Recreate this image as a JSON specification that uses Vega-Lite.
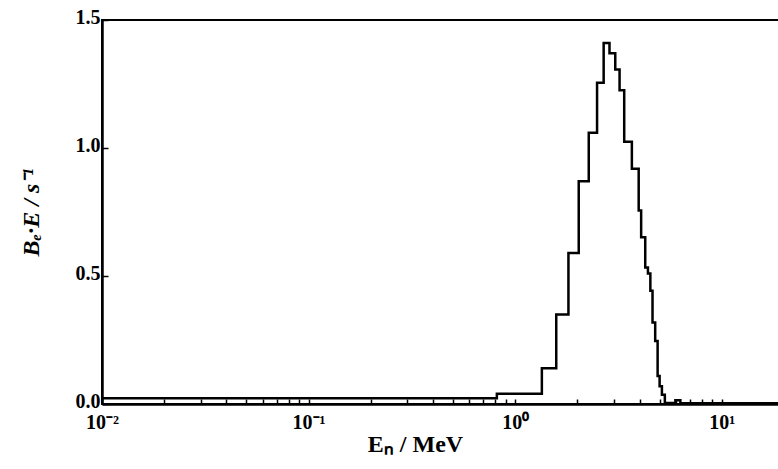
{
  "$schema": "https://vega.github.io/schema/vega-lite/v6.json",
  "autosize": {"type": "none"},
  "padding": {"left": 102, "top": 20, "right": 0, "bottom": 65},
  "width": 682,
  "height": 384,
  "background": "white",
  "config": {
    "view": {"stroke": "black", "strokeWidth": 2},
    "font": "Liberation Serif",
    "axis": {
      "domainColor": "black", "domainWidth": 2.5, "tickColor": "black", "tickWidth": 1.5,
      "labelFont": "Liberation Serif", "labelFontWeight": "bold", "labelColor": "black",
      "titleFont": "Liberation Serif", "titleFontWeight": "bold", "titleColor": "black",
      "grid": false
    }
  },
  "data": {"values": [
    {"E": 0.01, "v": 0.022},
    {"E": 0.815, "v": 0.04},
    {"E": 1.346, "v": 0.14},
    {"E": 1.58, "v": 0.35},
    {"E": 1.81, "v": 0.59},
    {"E": 2.03, "v": 0.87},
    {"E": 2.27, "v": 1.06},
    {"E": 2.49, "v": 1.255},
    {"E": 2.68, "v": 1.41},
    {"E": 2.86, "v": 1.37},
    {"E": 3.05, "v": 1.307},
    {"E": 3.2, "v": 1.226},
    {"E": 3.37, "v": 1.024},
    {"E": 3.67, "v": 0.919},
    {"E": 3.96, "v": 0.756},
    {"E": 4.07, "v": 0.651},
    {"E": 4.26, "v": 0.533},
    {"E": 4.39, "v": 0.51},
    {"E": 4.51, "v": 0.442},
    {"E": 4.62, "v": 0.318},
    {"E": 4.76, "v": 0.246},
    {"E": 4.89, "v": 0.109},
    {"E": 5.0, "v": 0.069},
    {"E": 5.13, "v": 0.036},
    {"E": 5.3, "v": 0.004},
    {"E": 5.96, "v": 0.015},
    {"E": 6.3, "v": 0.003},
    {"E": 20, "v": 0.003}
  ]},
  "mark": {"type": "line", "interpolate": "step-after", "color": "black", "strokeWidth": 2.5, "clip": true},
  "encoding": {
    "x": {
      "field": "E", "type": "quantitative",
      "scale": {"type": "log", "domain": [0.01, 20], "nice": false},
      "axis": {
        "values": [0.01, 0.02, 0.03, 0.04, 0.05, 0.06, 0.07, 0.08, 0.09, 0.1, 0.2, 0.3, 0.4, 0.5, 0.6, 0.7, 0.8, 0.9, 1, 2, 3, 4, 5, 6, 7, 8, 9, 10],
        "labelExpr": "datum.value == 0.01 ? '10⁻²' : datum.value == 0.1 ? '10⁻¹' : datum.value == 1 ? '10⁰' : datum.value == 10 ? '10¹' : ''",
        "labelOverlap": false, "labelFlush": false, "labelBound": false,
        "tickSize": -5, "labelPadding": 13, "labelFontSize": 20,
        "title": "Eₙ  / MeV", "titleFontSize": 24, "titlePadding": 0, "titleX": 313
      }
    },
    "y": {
      "field": "v", "type": "quantitative",
      "scale": {"domain": [0, 1.5], "nice": false},
      "axis": {
        "values": [0, 0.5, 1, 1.5], "format": ".1f",
        "tickSize": -6, "labelPadding": 8, "labelFontSize": 20, "labelOffset": -3,
        "title": "Bₑ·E / s⁻¹", "titleFontSize": 24, "titleFontStyle": "italic", "titlePadding": 32
      }
    }
  }
}
